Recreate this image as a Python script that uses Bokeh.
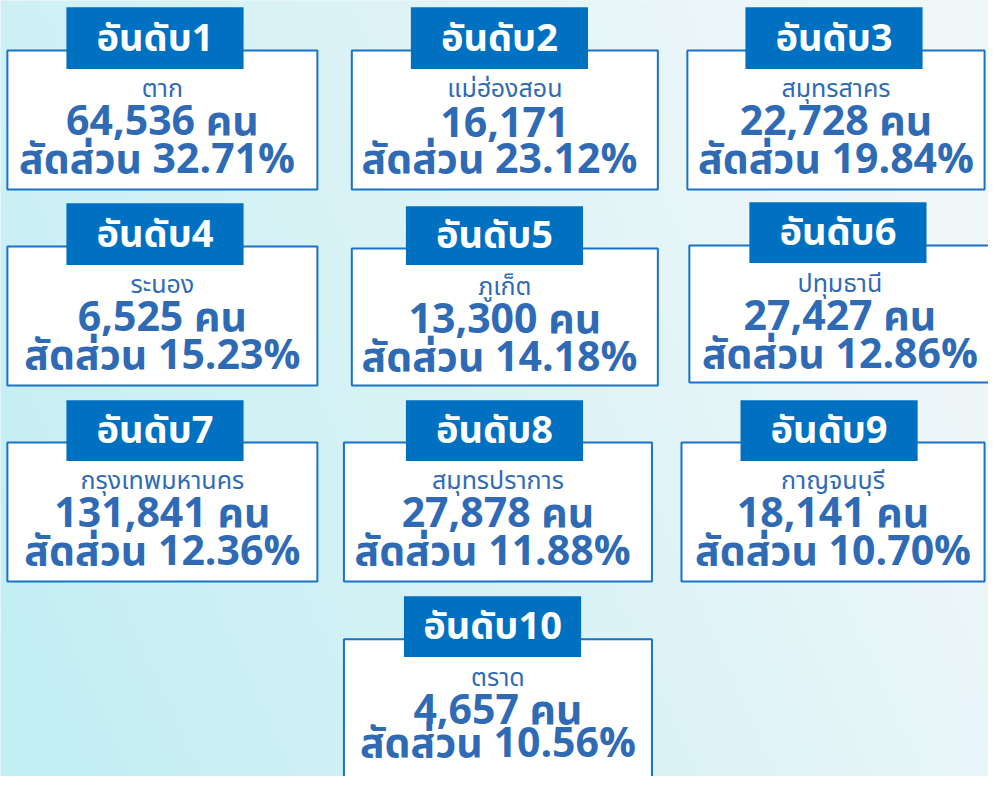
import numpy as np
from bokeh.plotting import figure
from bokeh.models import ColumnDataSource, Range1d
from bokeh.core.properties import value
from bokeh.embed import file_html
from bokeh.resources import INLINE

# ---- data ----
ranks = [1, 2, 3, 4, 5, 6, 7, 8, 9, 10]
provinces = ["ตาก", "แม่ฮ่องสอน", "สมุทรสาคร", "ระนอง", "ภูเก็ต",
             "ปทุมธานี", "กรุงเทพมหานคร", "สมุทรปราการ", "กาญจนบุรี", "ตราด"]
counts = [64536, 16171, 22728, 6525, 13300, 27427, 131841, 27878, 18141, 4657]
count_has_unit = [True, False, True, True, True, True, True, True, True, True]
shares = [32.71, 23.12, 19.84, 15.23, 14.18, 12.86, 12.36, 11.88, 10.70, 10.56]
share_gap = ["  ", "  ", " ", " ", "  ", " ", " ", "  ", " ", " "]

# ---- layout (pixel positions of the cards: box l, r, t, b ; header l, r, t, b) ----
layout = [
    (7, 322, 51, 193, 67, 247, 7, 70),
    (357, 668, 51, 193, 417, 597, 7, 70),
    (698, 1000, 51, 193, 757, 937, 7, 70),
    (7, 322, 251, 393, 67, 247, 207, 270),
    (357, 668, 253, 393, 412, 592, 210, 270),
    (700, 1006, 250, 390, 761, 941, 206, 268),
    (7, 322, 451, 593, 67, 247, 408, 470),
    (349, 662, 451, 593, 412, 592, 408, 470),
    (692, 1000, 451, 593, 752, 932, 408, 470),
    (349, 662, 652, 800, 410, 590, 608, 670),
]
# vertical text positions inside each card (province, count, share)
text_rows = [(bt + 39, bt + 73, bt + 112) for bt in [l[2] for l in layout]]
text_rows[9] = (691, 725, 759)

W, H = 988, 776
XW, YH = 1004, 792
p = figure(width=W, height=H, output_backend="svg", toolbar_location=None,
           x_range=Range1d(0, XW), y_range=Range1d(YH, 0),
           min_border=0, outline_line_color=None)
p.axis.visible = False
p.grid.visible = False
p.background_fill_color = "#dcf2f6"
p.border_fill_color = "#dcf2f6"

# background gradient (decoration)
gw, gh = 200, 160
xx = np.linspace(0, 1, gw)[None, :]
yy = np.linspace(0, 1, gh)[:, None]          # 0 = top
t = np.clip(0.85 * xx + 0.3 * (1 - yy), 0, 1)
c0 = np.array([192, 238, 243])
c1 = np.array([240, 247, 249])
rgb = c0[None, None, :] * (1 - t[..., None]) + c1[None, None, :] * t[..., None]
img = np.empty((gh, gw), dtype=np.uint32)
view = img.view(dtype=np.uint8).reshape((gh, gw, 4))
view[..., 0] = rgb[..., 0].astype(np.uint8)
view[..., 1] = rgb[..., 1].astype(np.uint8)
view[..., 2] = rgb[..., 2].astype(np.uint8)
view[..., 3] = 255
p.image_rgba(image=[img], x=0, y=0, dw=XW, dh=YH)

bl = [l[0] for l in layout]; br = [l[1] for l in layout]
bt = [l[2] for l in layout]; bb = [l[3] for l in layout]
hl = [l[4] for l in layout]; hr = [l[5] for l in layout]
ht = [l[6] for l in layout]; hb = [l[7] for l in layout]
cx = [(a + b) / 2 for a, b in zip(bl, br)]
hcx = [(a + b) / 2 for a, b in zip(hl, hr)]
hcy = [(a + b) / 2 + 1 for a, b in zip(ht, hb)]

count_txt = [f"{c:,}" + (" คน" if u else "") for c, u in zip(counts, count_has_unit)]
share_txt = [f"สัดส่วน{g}{s:.2f}%" for s, g in zip(shares, share_gap)]
header_txt = [f"อันดับ{r}" for r in ranks]

src = ColumnDataSource(dict(bl=bl, br=br, bt=bt, bb=bb, hl=hl, hr=hr, ht=ht, hb=hb,
                            cx=cx, hcx=hcx, hcy=hcy,
                            y1=[r[0] for r in text_rows], y2=[r[1] for r in text_rows],
                            y3=[r[2] for r in text_rows],
                            prov=provinces, cnt=count_txt, shr=share_txt, hdr=header_txt))

p.quad(left="bl", right="br", top="bt", bottom="bb", source=src,
       fill_color="white", line_color="#1872c6", line_width=2)
p.quad(left="hl", right="hr", top="ht", bottom="hb", source=src,
       fill_color="#0070c0", line_color=None)

FONT = "Noto Sans Thai, Noto Sans"
TXT = "#2f6bb4"
p.text(x="hcx", y="hcy", text="hdr", source=src, text_color="white",
       text_font=value(FONT), text_font_style="bold", text_font_size="38px",
       text_align="center", text_baseline="middle")
p.text(x="cx", y="y1", text="prov", source=src, text_color=TXT,
       text_font=value(FONT), text_font_size="25px",
       text_align="center", text_baseline="middle")
p.text(x="cx", y="y2", text="cnt", source=src, text_color=TXT,
       text_font=value(FONT), text_font_style="bold", text_font_size="41px",
       text_align="center", text_baseline="middle")
p.text(x="cx", y="y3", text="shr", source=src, text_color=TXT,
       text_font=value(FONT), text_font_style="bold", text_font_size="41px",
       text_align="center", text_baseline="middle")

open("out.html", "w").write(file_html(p, INLINE))
